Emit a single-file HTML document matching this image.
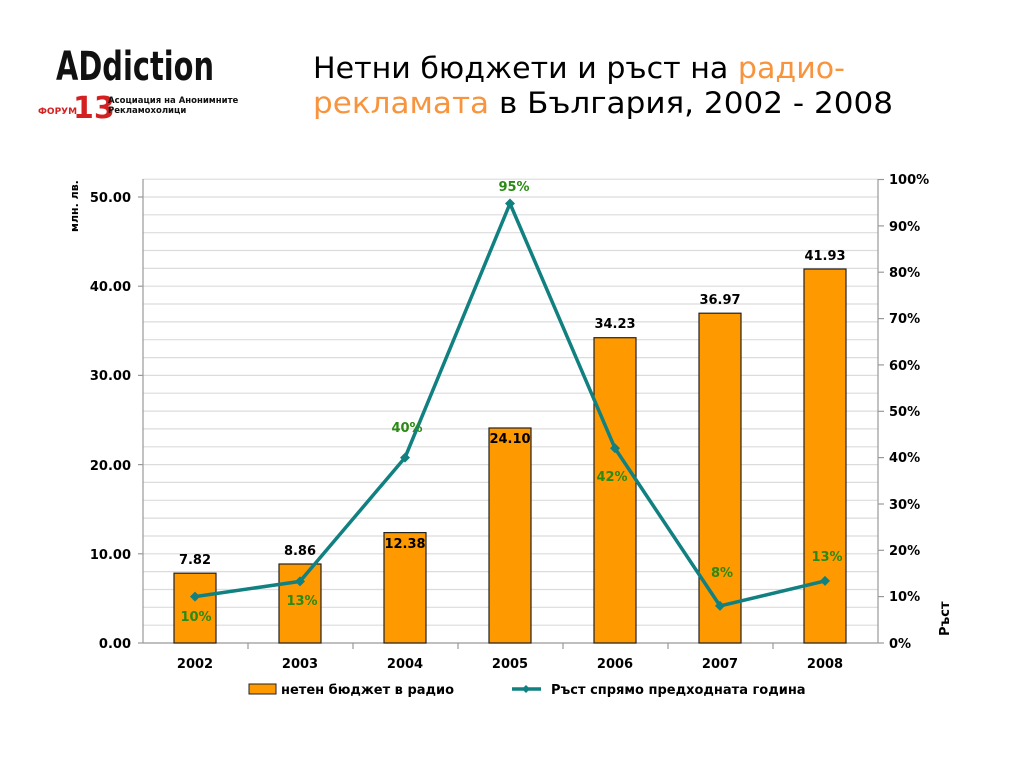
<!DOCTYPE html>
<html><head><meta charset="utf-8"><style>
html,body{margin:0;padding:0;background:#fff;}
svg{display:block;}
text{font-family:"DejaVu Sans","Liberation Sans",sans-serif;}
</style></head><body>
<svg width="1024" height="768" viewBox="0 0 1024 768" xmlns="http://www.w3.org/2000/svg">
<!-- logo -->
<g>
<text x="56" y="80" font-family="Liberation Sans Narrow, Liberation Sans, sans-serif" font-size="40" font-weight="bold" fill="#111" textLength="158" lengthAdjust="spacingAndGlyphs">ADdiction</text>
<text x="38" y="114" font-family="Liberation Sans, sans-serif" font-size="9" font-weight="bold" fill="#d42020">ФОРУМ</text>
<text x="73" y="118" font-family="Liberation Sans, sans-serif" font-size="30" font-weight="bold" fill="#d42020">13</text>
<text x="108" y="103" font-family="Liberation Sans, sans-serif" font-size="8.5" font-weight="bold" fill="#111">Асоциация на Анонимните</text>
<text x="108" y="113" font-family="Liberation Sans, sans-serif" font-size="8.5" font-weight="bold" fill="#111">Рекламохолици</text>
</g>
<!-- title -->
<text x="313" y="78" font-size="29" fill="#000" textLength="532" lengthAdjust="spacingAndGlyphs">Нетни бюджети и ръст на <tspan fill="#f7943d">радио-</tspan></text>
<text x="313" y="113" font-size="29" fill="#000" textLength="580" lengthAdjust="spacingAndGlyphs"><tspan fill="#f7943d">рекламата</tspan> в България, 2002 - 2008</text>
<!-- gridlines -->
<g stroke="#dcdcdc" stroke-width="1.2">
<line x1="143" x2="878" y1="625.2" y2="625.2"/><line x1="143" x2="878" y1="607.3" y2="607.3"/><line x1="143" x2="878" y1="589.5" y2="589.5"/><line x1="143" x2="878" y1="571.6" y2="571.6"/><line x1="143" x2="878" y1="553.8" y2="553.8"/>
<line x1="143" x2="878" y1="536" y2="536"/><line x1="143" x2="878" y1="518.1" y2="518.1"/><line x1="143" x2="878" y1="500.3" y2="500.3"/><line x1="143" x2="878" y1="482.4" y2="482.4"/><line x1="143" x2="878" y1="464.6" y2="464.6"/>
<line x1="143" x2="878" y1="446.8" y2="446.8"/><line x1="143" x2="878" y1="428.9" y2="428.9"/><line x1="143" x2="878" y1="411.1" y2="411.1"/><line x1="143" x2="878" y1="393.2" y2="393.2"/><line x1="143" x2="878" y1="375.4" y2="375.4"/>
<line x1="143" x2="878" y1="357.6" y2="357.6"/><line x1="143" x2="878" y1="339.7" y2="339.7"/><line x1="143" x2="878" y1="321.9" y2="321.9"/><line x1="143" x2="878" y1="304" y2="304"/><line x1="143" x2="878" y1="286.2" y2="286.2"/>
<line x1="143" x2="878" y1="268.4" y2="268.4"/><line x1="143" x2="878" y1="250.5" y2="250.5"/><line x1="143" x2="878" y1="232.7" y2="232.7"/><line x1="143" x2="878" y1="214.8" y2="214.8"/><line x1="143" x2="878" y1="197" y2="197"/><line x1="143" x2="878" y1="179.2" y2="179.2"/>
</g>
<!-- axes -->
<g stroke="#999" stroke-width="1.2">
<line x1="143" y1="179" x2="143" y2="643"/>
<line x1="878" y1="179" x2="878" y2="643"/>
<line x1="143" y1="643" x2="878" y2="643"/>
<line x1="138" x2="143" y1="643" y2="643"/><line x1="138" x2="143" y1="553.8" y2="553.8"/><line x1="138" x2="143" y1="464.6" y2="464.6"/><line x1="138" x2="143" y1="375.4" y2="375.4"/><line x1="138" x2="143" y1="286.2" y2="286.2"/><line x1="138" x2="143" y1="197" y2="197"/>
<line x1="878" x2="884" y1="643" y2="643"/><line x1="878" x2="884" y1="596.6" y2="596.6"/><line x1="878" x2="884" y1="550.3" y2="550.3"/><line x1="878" x2="884" y1="504" y2="504"/><line x1="878" x2="884" y1="457.6" y2="457.6"/><line x1="878" x2="884" y1="411.3" y2="411.3"/><line x1="878" x2="884" y1="364.9" y2="364.9"/><line x1="878" x2="884" y1="318.6" y2="318.6"/><line x1="878" x2="884" y1="272.2" y2="272.2"/><line x1="878" x2="884" y1="225.9" y2="225.9"/><line x1="878" x2="884" y1="179.5" y2="179.5"/>
<line x1="248" x2="248" y1="643" y2="649"/><line x1="353" x2="353" y1="643" y2="649"/><line x1="458" x2="458" y1="643" y2="649"/><line x1="563" x2="563" y1="643" y2="649"/><line x1="668" x2="668" y1="643" y2="649"/><line x1="773" x2="773" y1="643" y2="649"/>
</g>
<!-- left labels -->
<g font-size="13" font-weight="bold" fill="#000" text-anchor="end">
<text x="131" y="648">0.00</text><text x="131" y="559">10.00</text><text x="131" y="470">20.00</text><text x="131" y="380">30.00</text><text x="131" y="291">40.00</text><text x="131" y="202">50.00</text>
</g>
<text transform="translate(78,232) rotate(-90)" font-size="11" font-weight="bold">млн. лв.</text>
<g font-size="13" font-weight="bold" fill="#000">
<text x="889" y="648">0%</text><text x="889" y="601">10%</text><text x="889" y="555">20%</text><text x="889" y="509">30%</text><text x="889" y="462">40%</text><text x="889" y="416">50%</text><text x="889" y="370">60%</text><text x="889" y="323">70%</text><text x="889" y="277">80%</text><text x="889" y="231">90%</text><text x="889" y="184">100%</text>
</g>
<text transform="translate(949,636) rotate(-90)" font-size="13" font-weight="bold">Ръст</text>
<!-- bars -->
<g fill="#ff9900" stroke="#222" stroke-width="1.2">
<rect x="174" y="573.2" width="42" height="69.8"/>
<rect x="279" y="564" width="42" height="79"/>
<rect x="384" y="532.6" width="42" height="110.4"/>
<rect x="489" y="428" width="42" height="215"/>
<rect x="594" y="337.7" width="42" height="305.3"/>
<rect x="699" y="313.2" width="42" height="329.8"/>
<rect x="804" y="269" width="42" height="374"/>
</g>
<!-- x labels -->
<g font-size="13" font-weight="bold" text-anchor="middle">
<text x="195" y="668">2002</text><text x="300" y="668">2003</text><text x="405" y="668">2004</text><text x="510" y="668">2005</text><text x="615" y="668">2006</text><text x="720" y="668">2007</text><text x="825" y="668">2008</text>
</g>
<!-- bar values -->
<g font-size="13" font-weight="bold" text-anchor="middle">
<text x="195" y="564">7.82</text><text x="300" y="555">8.86</text><text x="405" y="548">12.38</text><text x="510" y="443">24.10</text><text x="615" y="328">34.23</text><text x="720" y="304">36.97</text><text x="825" y="260">41.93</text>
</g>
<!-- line -->
<polyline fill="none" stroke="#118080" stroke-width="3.5" stroke-linejoin="round" points="195,596.6 300,581.4 405,457.6 510,203.5 615,448.3 720,605.9 825,580.9"/>
<g fill="#118080">
<path d="M195 591.6 L200 596.6 L195 601.6 L190 596.6Z"/>
<path d="M300 576.4 L305 581.4 L300 586.4 L295 581.4Z"/>
<path d="M405 452.6 L410 457.6 L405 462.6 L400 457.6Z"/>
<path d="M510 198.5 L515 203.5 L510 208.5 L505 203.5Z"/>
<path d="M615 443.3 L620 448.3 L615 453.3 L610 448.3Z"/>
<path d="M720 600.9 L725 605.9 L720 610.9 L715 605.9Z"/>
<path d="M825 575.9 L830 580.9 L825 585.9 L820 580.9Z"/>
</g>
<g font-size="13" font-weight="bold" fill="#2a8a14" text-anchor="middle">
<text x="196" y="621">10%</text><text x="302" y="605">13%</text><text x="407" y="432">40%</text><text x="514" y="191">95%</text><text x="612" y="481">42%</text><text x="722" y="577">8%</text><text x="827" y="561">13%</text>
</g>
<!-- legend -->
<rect x="249" y="684" width="27" height="10" fill="#ff9900" stroke="#222" stroke-width="1"/>
<text x="281" y="694" font-size="13" font-weight="bold">нетен бюджет в радио</text>
<line x1="512" y1="689" x2="541" y2="689" stroke="#118080" stroke-width="3.5"/>
<path d="M526 685 L530 689 L526 693 L522 689Z" fill="#118080"/>
<text x="551" y="694" font-size="13" font-weight="bold">Ръст спрямо предходната година</text>
</svg>
</body></html>
